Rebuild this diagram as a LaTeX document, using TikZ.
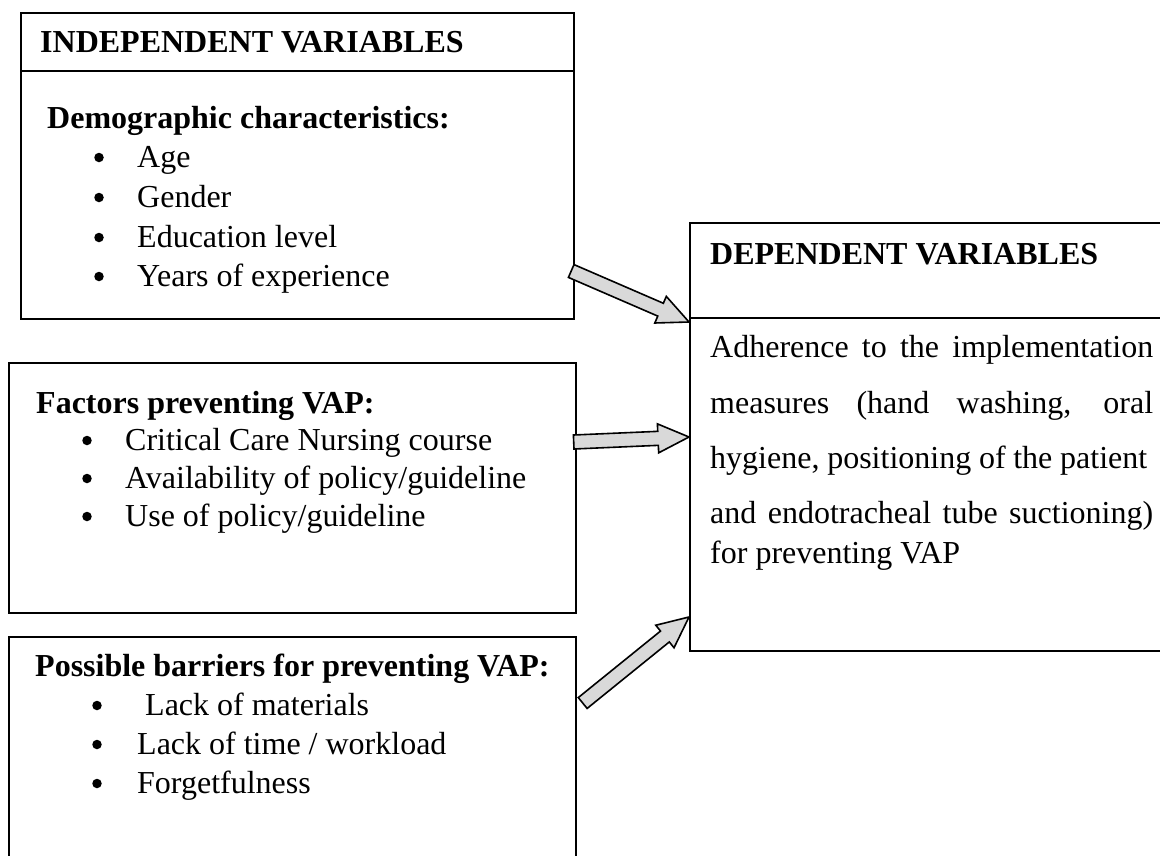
\documentclass[tikz,border=0pt]{standalone}
\usepackage{fontspec}
\setmainfont{Liberation Serif}
\usetikzlibrary{calc}
\tikzset{
  box/.style={draw=black, line width=1.7bp, fill=white, inner sep=0pt, anchor=north west},
  txt/.style={anchor=base west, inner sep=0pt, font=\fontsize{32bp}{40bp}\selectfont},
  hd/.style={txt, font=\fontsize{32bp}{40bp}\selectfont\bfseries},
  bul/.style={circle, fill=black, inner sep=0pt, minimum size=9.5bp},
  blk/.style={draw=black, line width=1.6bp, fill=black!15, line join=miter},
}
\newcommand\blockarrow[3]{%
  \path ($(#2)!31bp!(#1)$) coordinate (#3b);
  \draw[blk] ($(#1)!7bp!90:(#2)$) -- ($(#3b)!7bp!90:(#2)$) -- ($(#3b)!14.5bp!90:(#2)$)
    -- (#2) -- ($(#3b)!14.5bp!-90:(#2)$) -- ($(#3b)!7bp!-90:(#2)$) -- ($(#1)!7bp!-90:(#2)$) -- cycle;
}
\begin{document}
\begin{tikzpicture}[x=1bp, y=-1bp]
\path[use as bounding box, clip] (0,0) rectangle (1160,856);
\fill[white] (0,0) rectangle (1160,856);
% boxes
\node[box, minimum width=553bp, minimum height=306bp] (indep) at (20,12) {};
\draw[line width=1.7bp] ([yshift=-59bp]indep.north west) -- ([yshift=-59bp]indep.north east);
\node[box, minimum width=567bp, minimum height=250bp] (fact) at (8,362) {};
\node[box, minimum width=567bp, minimum height=300bp] (barr) at (8,636) {};
\node[box, minimum width=500bp, minimum height=428bp] (dep) at (689,222) {};
\draw[line width=1.7bp] ([yshift=-96bp]dep.north west) -- ([yshift=-96bp]dep.north east);
% box 1 text
\node[hd] (t1) at (40,52) {INDEPENDENT VARIABLES};
\node[hd] (t2) at (47,128) {Demographic characteristics:};
\foreach \y/\t [count=\i] in {167/Age, 207/Gender, 247/Education level, 286/Years of experience}{
  \node[bul] (b1\i) at (99,\y-9.5) {};
  \node[txt] (l1\i) at (137,\y) {\t};
}
% box 2 text
\node[hd] (t3) at (36,413) {Factors preventing VAP:};
\foreach \y/\t [count=\i] in {450/Critical Care Nursing course, 488/Availability of policy\slash guideline, 526/Use of policy\slash guideline}{
  \node[bul] (b2\i) at (87,\y-9.5) {};
  \node[txt] (l2\i) at (125,\y) {\t};
}
% box 3 text
\node[hd] (t4) at (35,676) {Possible barriers for preventing VAP:};
\node[bul] (b31) at (97,715-9.5) {};
\node[txt] (l31) at (145,715) {Lack of materials};
\node[bul] (b32) at (97,754-9.5) {};
\node[txt] (l32) at (137,754) {Lack of time / workload};
\node[bul] (b33) at (97,793-9.5) {};
\node[txt] (l33) at (137,793) {Forgetfulness};
% dependent box text
\node[hd] (t5) at (710,264) {DEPENDENT VARIABLES};
\node[txt] (p1) at (710,357) {\makebox[443bp][s]{Adherence to the implementation}};
\node[txt] (p2) at (710,413) {\makebox[443bp][s]{measures (hand washing, oral}};
\node[txt] (p3) at (710,468) {\makebox[437bp][s]{hygiene, positioning of the patient}};
\node[txt] (p4) at (710,523) {\makebox[443bp][s]{and endotracheal tube suctioning)}};
\node[txt] (p5) at (710,563) {for preventing VAP};
% arrows
\coordinate (a1s) at ([yshift=-259bp,xshift=-3.5bp]indep.north east);
\coordinate (a1e) at ([yshift=-100bp]dep.north west);
\coordinate (a2s) at ([yshift=-80bp,xshift=-3bp]fact.north east);
\coordinate (a2e) at ([yshift=-215bp]dep.north west);
\coordinate (a3s) at ([yshift=-67bp,xshift=6bp]barr.north east);
\coordinate (a3e) at ([yshift=-395bp]dep.north west);
\blockarrow{a1s}{a1e}{a1}
\blockarrow{a2s}{a2e}{a2}
\blockarrow{a3s}{a3e}{a3}
\end{tikzpicture}
\end{document}
